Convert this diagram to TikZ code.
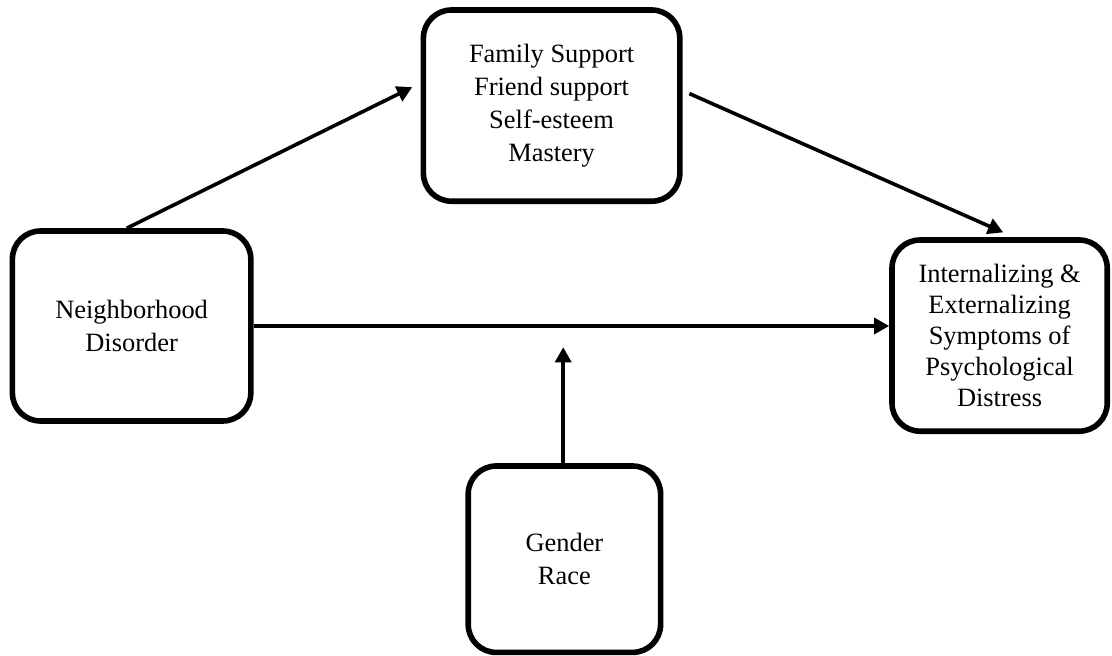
\documentclass[tikz,border=0pt]{standalone}
\usepackage{fontspec}
\setmainfont{Liberation Serif}
\usetikzlibrary{shapes,arrows.meta}

\tikzset{
  box/.style={draw,rectangle,rounded corners=0.7cm,line width=0.14cm,align=center,
    font=\fontsize{18.8}{23.5}\selectfont},
  link/.style={->,line width=0.09cm},
}

\begin{document}
\begin{tikzpicture}[>={Triangle[length=0.38cm,width=0.4cm]}]
  \useasboundingbox (0,0) rectangle (27.8,-16.4);

  \node[box,minimum width=6.41cm,minimum height=4.78cm] at (13.79,-2.64) (n-med) {Family Support\\Friend support\\Self-esteem\\Mastery};
  \node[box,minimum width=5.96cm,minimum height=4.75cm] at (3.29,-8.15) (n-dis) {Neighborhood\\Disorder};
  \node[box,minimum width=5.38cm,minimum height=4.78cm,font=\fontsize{18.8}{22}\selectfont] at (24.99,-8.39) (n-out) {Internalizing \&\\Externalizing\\Symptoms of\\Psychological\\Distress};
  \node[box,minimum width=4.81cm,minimum height=4.66cm] at (14.11,-13.98) (n-mod) {Gender\\Race};

  \coordinate (c-mid) at (14.08,-8.68);

  \draw[link] ([xshift=-0.12cm]n-dis.north) -- ([xshift=-0.21cm,yshift=0.46cm]n-med.west);
  \draw[link] ([xshift=0.17cm,yshift=0.3cm]n-med.east) -- ([xshift=0.09cm,yshift=0.12cm]n-out.north);
  \draw[link] (n-dis.east) -- (n-dis.east -| n-out.west);
  \draw[link] ([xshift=-0.03cm]n-mod.north) -- (c-mid);

\end{tikzpicture}
\end{document}
